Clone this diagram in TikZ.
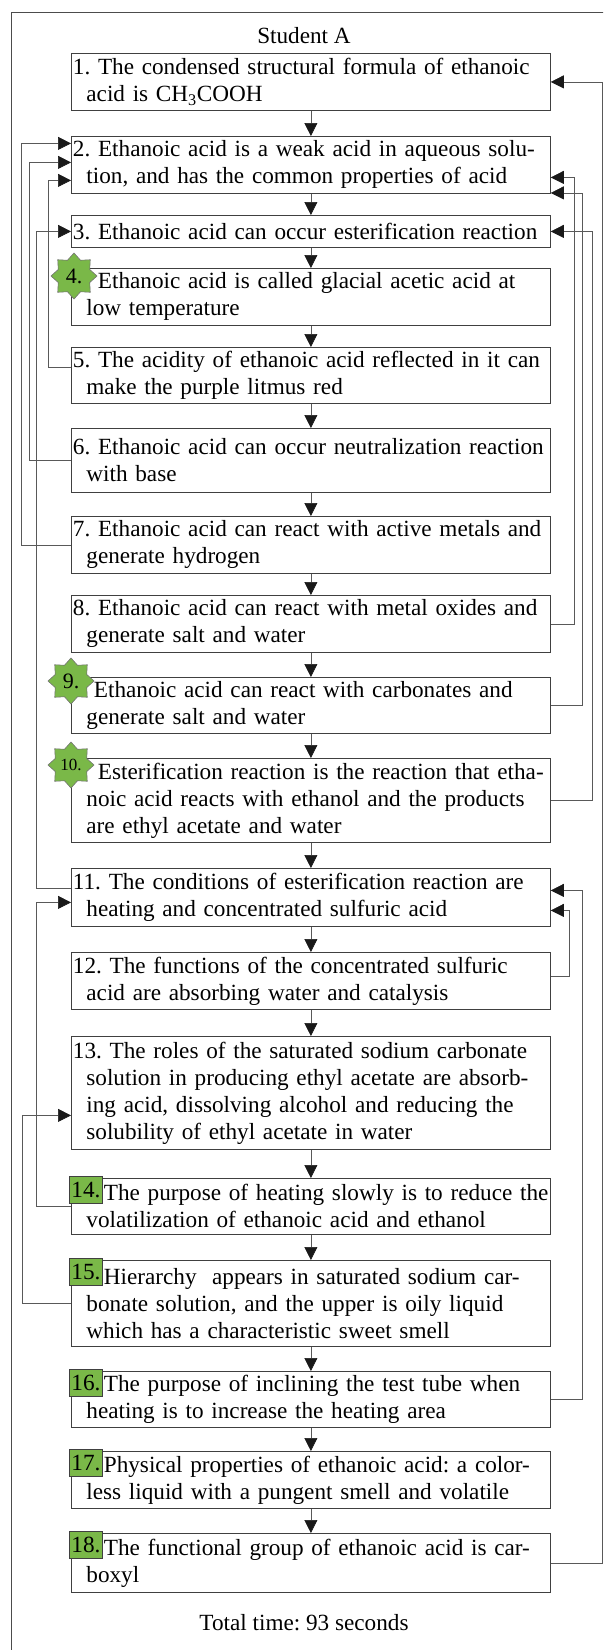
\documentclass[tikz,border=0pt]{standalone}
\usepackage{fontspec}
\setmainfont{Liberation Serif}
\usetikzlibrary{arrows.meta}
\usetikzlibrary{shapes}
\definecolor{markGreen}{RGB}{122,184,72}
\setlength{\parindent}{0pt}
\frenchspacing

\begin{document}
\begin{tikzpicture}[x = 1pt, y = -1pt, font = \fontsize{23.2}{27}\selectfont]
	\tikzstyle{boxStyle}=[draw = black!75, line width = 0.8pt, anchor = north west, text width = 476pt, align = left, inner xsep = 1.5pt, inner ysep = 2pt, minimum height = 57pt, execute at begin node = {\hangindent=13.5pt\hangafter=1\hyphenpenalty=10000\tolerance=10000}]
	\tikzstyle{sealStyle}=[star, star points = 8, star point ratio = 1.35, minimum size = 46pt, inner sep = 0pt, fill = markGreen, draw = black!55, line width = 0.6pt, font = \fontsize{22}{22}\selectfont]
	\tikzstyle{squareStyle}=[rectangle, anchor = north west, minimum width = 33pt, minimum height = 27pt, inner sep = 0pt, fill = markGreen, draw = black!75, line width = 0.8pt]
	\tikzstyle{linkStyle}=[draw = black!65, line width = 0.6pt]
	\tikzstyle{arrowStyle}=[linkStyle, -{Triangle[length = 13pt, width = 13pt, color = black!90]}]
	\path[use as bounding box] (0, 0) rectangle (603, 1650);
	\clip (0, 0) rectangle (603, 1650);
	\draw[draw = black!70, line width = 0.7pt] (11, 1670) -- (11, 12) -- (640, 12);
	\node (title) at (304, 36) {Student A};
	\node[boxStyle] (b1) at (71, 53) {1. The condensed structural formula of ethanoic\newline acid is CH\textsubscript{3}COOH};
	\node[boxStyle] (b2) at (71, 136) {2. Ethanoic acid is a weak acid in aqueous solu-\newline tion, and has the common properties of acid};
	\node[boxStyle, minimum height = 32pt] (b3) at (71, 215) {3. Ethanoic acid can occur esterification reaction};
	\node[boxStyle] (b4) at (71, 268) {\hspace*{25pt}Ethanoic acid is called glacial acetic acid at\newline low temperature};
	\node[boxStyle, minimum height = 56pt] (b5) at (71, 347) {5. The acidity of ethanoic acid reflected in it can\newline make the purple litmus red};
	\node[boxStyle, minimum height = 64pt] (b6) at (71, 428) {6. Ethanoic acid can occur neutralization reaction\newline with base};
	\node[boxStyle] (b7) at (71, 516) {7. Ethanoic acid can react with active metals and\newline generate hydrogen};
	\node[boxStyle] (b8) at (71, 595) {8. Ethanoic acid can react with metal oxides and\newline generate salt and water};
	\node[boxStyle, minimum height = 56pt] (b9) at (71, 677) {\hspace*{21pt}Ethanoic acid can react with carbonates and\newline generate salt and water};
	\node[boxStyle, minimum height = 84pt] (b10) at (71, 758) {\hspace*{25pt}Esterification reaction is the reaction that etha-\newline noic acid reacts with ethanol and the products\newline are ethyl acetate and water};
	\node[boxStyle, minimum height = 58pt] (b11) at (71, 868) {11. The conditions of esterification reaction are\newline heating and concentrated sulfuric acid};
	\node[boxStyle] (b12) at (71, 952) {12. The functions of the concentrated sulfuric\newline acid are absorbing water and catalysis};
	\node[boxStyle, minimum height = 113pt] (b13) at (71, 1036) {13. The roles of the saturated sodium carbonate\newline solution in producing ethyl acetate are absorb-\newline ing acid, dissolving alcohol and reducing the\newline solubility of ethyl acetate in water};
	\node[boxStyle, minimum height = 56pt] (b14) at (71, 1178) {\hspace*{31pt}The purpose of heating slowly is to reduce the\newline volatilization of ethanoic acid and ethanol};
	\node[boxStyle, minimum height = 86pt] (b15) at (71, 1260) {\hspace*{31pt}Hierarchy~ appears in saturated sodium car-\newline bonate solution, and the upper is oily liquid\newline which has a characteristic sweet smell};
	\node[boxStyle, minimum height = 56pt] (b16) at (71, 1371) {\hspace*{31pt}The purpose of inclining the test tube when\newline heating is to increase the heating area};
	\node[boxStyle] (b17) at (71, 1451) {\hspace*{31pt}Physical properties of ethanoic acid: a color-\newline less liquid with a pungent smell and volatile};
	\node[boxStyle, minimum height = 59pt] (b18) at (71, 1533) {\hspace*{31pt}The functional group of ethanoic acid is car-\newline boxyl};
	\node (total) at (304, 1623) {Total time: 93 seconds};
	\node[sealStyle] (m4) at (74, 276) {4.};
	\node[sealStyle] (m9) at (71, 681) {9.};
	\node[sealStyle, font = \fontsize{17}{17}\selectfont] (m10) at (71, 765) {10.};
	\node[squareStyle] (q14) at ([shift = {(-2pt, 2pt)}]b14.north west) {14.};
	\node[squareStyle] (q15) at ([shift = {(-2pt, 2pt)}]b15.north west) {15.};
	\node[squareStyle] (q16) at ([shift = {(-2pt, 2pt)}]b16.north west) {16.};
	\node[squareStyle] (q17) at ([shift = {(-2pt, 2pt)}]b17.north west) {17.};
	\node[squareStyle] (q18) at ([shift = {(-2pt, 2pt)}]b18.north west) {18.};
	\draw[arrowStyle] (b1) -- (b2);
	\draw[arrowStyle] (b2) -- (b3);
	\draw[arrowStyle] (b3) -- (b4);
	\draw[arrowStyle] (b4) -- (b5);
	\draw[arrowStyle] (b5) -- (b6);
	\draw[arrowStyle] (b6) -- (b7);
	\draw[arrowStyle] (b7) -- (b8);
	\draw[arrowStyle] (b8) -- (b9);
	\draw[arrowStyle] (b9) -- (b10);
	\draw[arrowStyle] (b10) -- (b11);
	\draw[arrowStyle] (b11) -- (b12);
	\draw[arrowStyle] (b12) -- (b13);
	\draw[arrowStyle] (b13) -- (b14);
	\draw[arrowStyle] (b14) -- (b15);
	\draw[arrowStyle] (b15) -- (b16);
	\draw[arrowStyle] (b16) -- (b17);
	\draw[arrowStyle] (b17) -- (b18);
	\draw[arrowStyle] (b7.west) -- ++(-50, 0) |- ([yshift = 21.5pt]b2.west);
	\draw[arrowStyle] (b6.west) -- ++(-42, 0) |- ([yshift = 2.5pt]b2.west);
	\draw[arrowStyle] ([yshift = 8pt]b5.west) -- ++(-23, 0) |- ([yshift = -15.5pt]b2.west);
	\draw[arrowStyle] ([yshift = 9pt]b11.west) -- ++(-35, 0) |- (b3.west);
	\draw[arrowStyle] (b14.west) -- ++(-35, 0) |- ([yshift = -5pt]b11.west);
	\draw[arrowStyle] (b15.west) -- ++(-49, 0) |- ([yshift = -22.5pt]b13.west);
	\draw[arrowStyle] (b8.east) -- ++(23, 0) |- ([yshift = -12.5pt]b2.east);
	\draw[arrowStyle] (b9.east) -- ++(31, 0) |- ([yshift = -28pt]b2.east);
	\draw[arrowStyle] (b10.east) -- ++(41, 0) |- (b3.east);
	\draw[arrowStyle] ([yshift = 4.5pt]b12.east) -- ++(18, 0) |- ([yshift = -13pt]b11.east);
	\draw[arrowStyle] (b16.east) -- ++(31, 0) |- ([yshift = 7pt]b11.east);
	\draw[arrowStyle] (b18.east) -- ++(51, 0) |- (b1.east);
\end{tikzpicture}
\end{document}
